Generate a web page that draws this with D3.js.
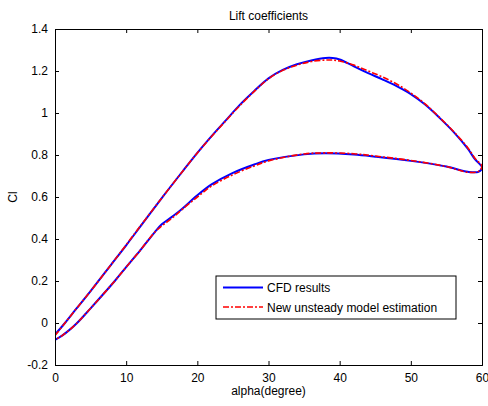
<!DOCTYPE html>
<html>
<head>
<meta charset="utf-8">
<script src="https://cdn.jsdelivr.net/npm/d3@7"></script>
<style>
  body { margin: 0; background: #fff; }
  svg { display: block; }
  text { font-family: "Liberation Sans", Arial, sans-serif; font-size: 12px; fill: #000; }
</style>
</head>
<body>
<svg id="chart" width="488" height="406"></svg>
<script>
// ---- Data ----
const title = "Lift coefficients";
const xLabel = "alpha(degree)";
const yLabel = "Cl";
const xTicks = [0, 10, 20, 30, 40, 50, 60];
const yTicks = [-0.2, 0, 0.2, 0.4, 0.6, 0.8, 1, 1.2, 1.4];
const seriesNames = ["CFD results", "New unsteady model estimation"];

// upstroke branch (alpha increasing)
const alphaUp = [0, 1.4, 3, 5, 8, 10, 12, 15, 18, 20, 22, 24, 26, 28, 30, 32, 34, 36, 38, 39, 40, 42, 44, 46, 48, 50, 52, 54, 56, 58, 59, 60];
const cfdUp   = [-0.055, 0, 0.068, 0.152, 0.283, 0.37, 0.46, 0.595, 0.725, 0.81, 0.89, 0.965, 1.04, 1.105, 1.165, 1.205, 1.232, 1.25, 1.262, 1.262, 1.255, 1.222, 1.19, 1.16, 1.128, 1.09, 1.04, 0.978, 0.91, 0.83, 0.78, 0.74];
const modelUp = [-0.06, 0, 0.068, 0.152, 0.283, 0.372, 0.462, 0.595, 0.725, 0.81, 0.888, 0.963, 1.036, 1.103, 1.163, 1.203, 1.228, 1.245, 1.252, 1.252, 1.248, 1.228, 1.2, 1.172, 1.138, 1.095, 1.043, 0.98, 0.912, 0.835, 0.785, 0.745];

// downstroke branch (alpha decreasing)
const alphaDown = [60, 59.5, 58, 55, 50, 45, 42, 38, 35, 30, 28, 25, 22, 20, 18, 17, 16, 15, 14, 12, 10, 8.4, 5, 3.1, 2, 1, 0];
const cfdDown   = [0.74, 0.72, 0.72, 0.745, 0.772, 0.792, 0.802, 0.808, 0.803, 0.776, 0.755, 0.715, 0.66, 0.608, 0.548, 0.52, 0.495, 0.47, 0.432, 0.347, 0.266, 0.2, 0.07, 0, -0.034, -0.06, -0.08];
const modelDown = [0.745, 0.722, 0.718, 0.745, 0.774, 0.795, 0.806, 0.81, 0.805, 0.772, 0.748, 0.706, 0.652, 0.6, 0.545, 0.515, 0.488, 0.462, 0.432, 0.347, 0.266, 0.2, 0.07, 0, -0.034, -0.06, -0.08];

// ---- Layout ----
const svg = d3.select("#chart");
const pLeft = 55, pRight = 482, pTop = 29, pBottom = 365;
const x = d3.scaleLinear().domain([0, 60]).range([pLeft, pRight]);
const y = d3.scaleLinear().domain([-0.2, 1.4]).range([pBottom, pTop]);

// ---- Curves ----
svg.append("clipPath").attr("id", "clip").append("rect")
  .attr("x", pLeft).attr("y", pTop).attr("width", pRight - pLeft).attr("height", pBottom - pTop);

const line = d3.line().x(d => x(d[0])).y(d => y(d[1])).curve(d3.curveCatmullRom.alpha(0.5));
const cfdPts = alphaUp.map((a, i) => [a, cfdUp[i]]).concat(alphaDown.slice(1).map((a, i) => [a, cfdDown[i + 1]]));
const modelPts = alphaUp.map((a, i) => [a, modelUp[i]]).concat(alphaDown.slice(1).map((a, i) => [a, modelDown[i + 1]]));

const g = svg.append("g").attr("clip-path", "url(#clip)");
g.append("path").attr("d", line(cfdPts)).attr("fill", "none").attr("stroke", "#0000ff").attr("stroke-width", 2);
g.append("path").attr("d", line(modelPts)).attr("fill", "none").attr("stroke", "#ff0000").attr("stroke-width", 1.6)
  .attr("stroke-dasharray", "6,2,2,2");

// ---- Axes (MATLAB style box with inward ticks) ----
const tickLen = 4;
const axB = svg.append("g").attr("transform", `translate(0,${pBottom})`)
  .call(d3.axisBottom(x).tickValues(xTicks).tickSize(-tickLen).tickPadding(8).tickFormat(d3.format("d")));
const axT = svg.append("g").attr("transform", `translate(0,${pTop})`)
  .call(d3.axisTop(x).tickValues(xTicks).tickSize(-tickLen).tickFormat(""));
const axL = svg.append("g").attr("transform", `translate(${pLeft},0)`)
  .call(d3.axisLeft(y).tickValues(yTicks).tickSize(-tickLen).tickPadding(7).tickFormat(d => String(+d.toFixed(1))));
const axR = svg.append("g").attr("transform", `translate(${pRight},0)`)
  .call(d3.axisRight(y).tickValues(yTicks).tickSize(-tickLen).tickFormat(""));
[axB, axT, axL, axR].forEach(a => {
  a.select(".domain").attr("stroke", "#000").attr("stroke-width", 1);
  a.selectAll(".tick line").attr("stroke", "#000");
  a.selectAll("text").attr("font-family", "Liberation Sans, Arial, sans-serif").attr("font-size", 12).attr("fill", "#000");
});

// ---- Titles ----
svg.append("text").attr("x", (pLeft + pRight) / 2).attr("y", 20).attr("text-anchor", "middle").text(title);
svg.append("text").attr("x", (pLeft + pRight) / 2).attr("y", 395).attr("text-anchor", "middle").text(xLabel);
svg.append("text").attr("transform", `translate(17,${(pTop + pBottom) / 2}) rotate(-90)`).attr("text-anchor", "middle").text(yLabel);

// ---- Legend ----
const lg = svg.append("g");
lg.append("rect").attr("x", 216).attr("y", 276).attr("width", 240).attr("height", 43)
  .attr("fill", "#fff").attr("stroke", "#000").attr("stroke-width", 1);
const legendStyles = [
  { color: "#0000ff", width: 2, dash: null },
  { color: "#ff0000", width: 1.6, dash: "6,2,2,2" }
];
seriesNames.forEach((name, i) => {
  const yy = 287.5 + i * 19.5;
  const l = lg.append("line").attr("x1", 223).attr("x2", 263).attr("y1", yy).attr("y2", yy)
    .attr("stroke", legendStyles[i].color).attr("stroke-width", legendStyles[i].width);
  if (legendStyles[i].dash) l.attr("stroke-dasharray", legendStyles[i].dash);
  lg.append("text").attr("x", 267).attr("y", yy + 4.5).text(name);
});
</script>
</body>
</html>
